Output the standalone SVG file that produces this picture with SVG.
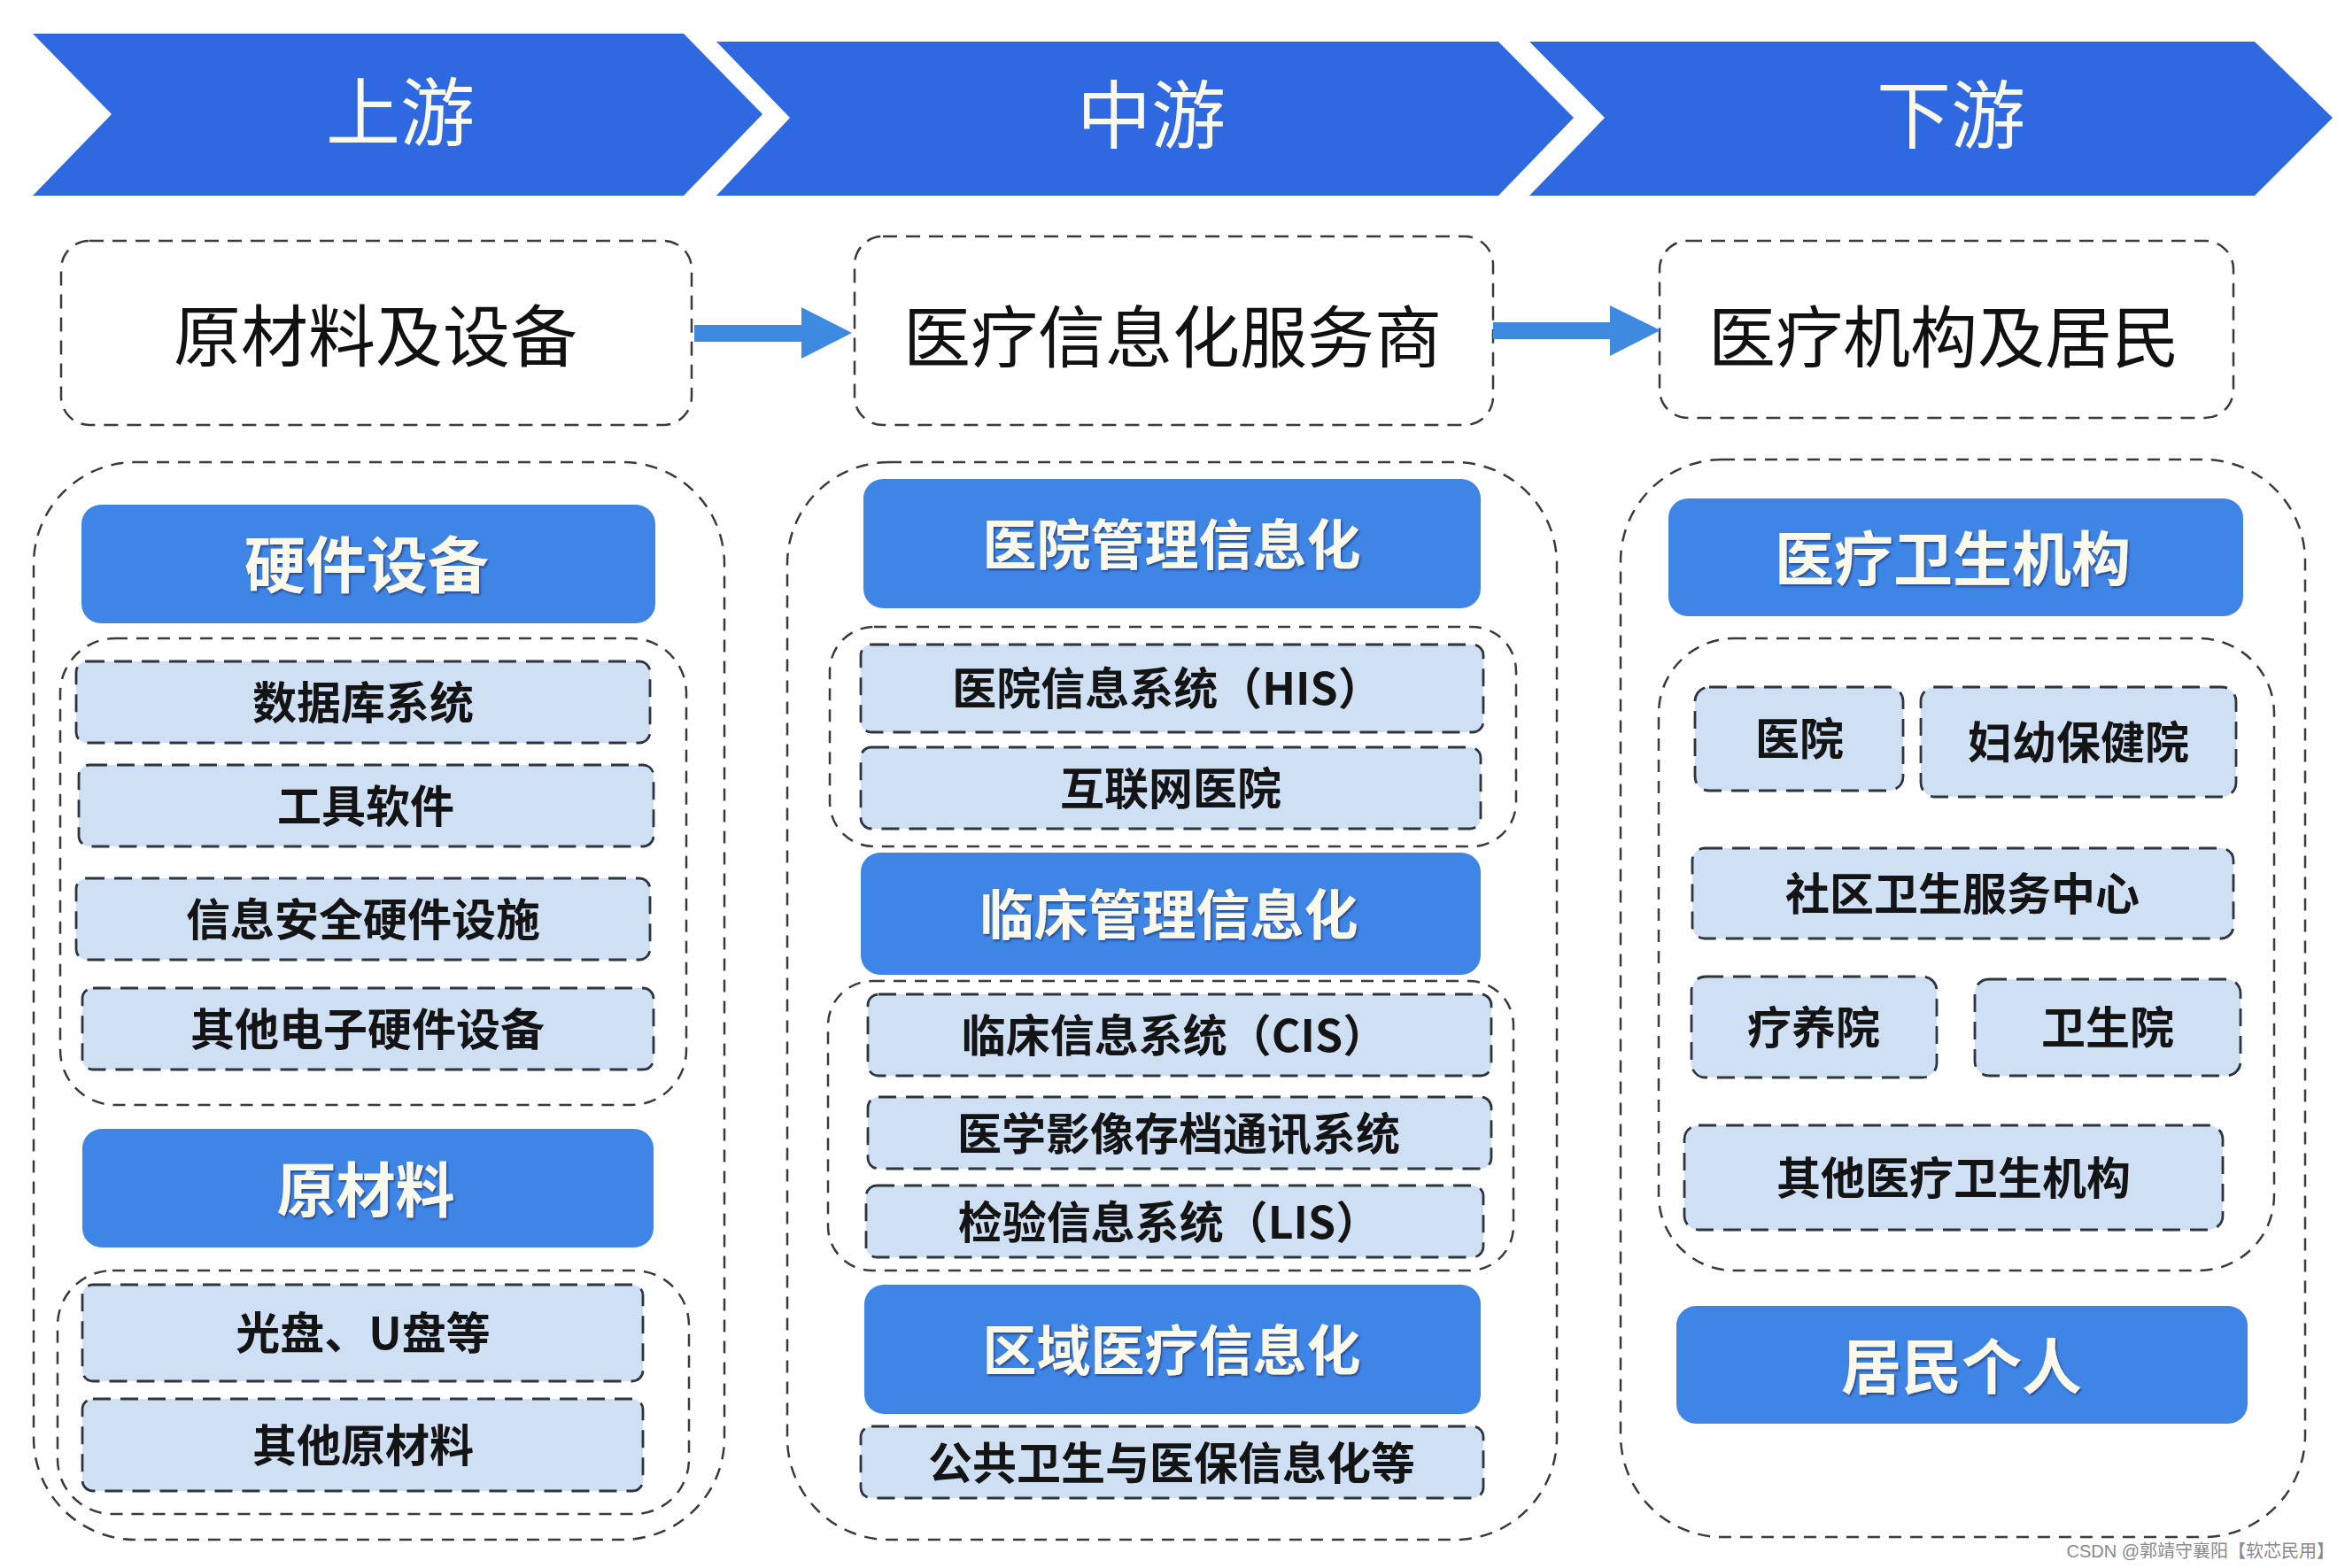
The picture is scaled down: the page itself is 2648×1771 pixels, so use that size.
<svg xmlns="http://www.w3.org/2000/svg" width="2648" height="1771" viewBox="0 0 2648 1771">
<style>
  .banner { fill: #2e69e2; }
  .btxt { font-family: "Noto Sans CJK SC", "Noto Sans", sans-serif; font-size: 84px; font-weight: 400; fill: #fbf8ee; text-anchor: middle; dominant-baseline: central; transform: translateY(-4px); }
  .topbox { fill: #ffffff; stroke: #3a3a3a; stroke-width: 2.5; stroke-dasharray: 16 10; }
  .toptxt { font-family: "Noto Sans CJK SC", "Noto Sans", sans-serif; font-size: 76px; font-weight: 400; fill: #111111; text-anchor: middle; dominant-baseline: central; transform: translateY(-4px); }
  .outer { fill: none; stroke: #3a3a3a; stroke-width: 2.5; stroke-dasharray: 14 10; }
  .inner { fill: none; stroke: #3a3a3a; stroke-width: 2.5; stroke-dasharray: 14 10; }
  .cat { fill: #3f85e6; }
  .cattxt { font-family: "Noto Sans CJK SC", "Noto Sans", sans-serif; font-weight: 700; fill: #fbf8ec; text-anchor: middle; dominant-baseline: central; filter: url(#sh); transform: translateY(-3px); }
  .item { fill: #cfe0f5; stroke: #2e3440; stroke-width: 2.8; stroke-dasharray: 20 11; }
  .itxt { font-family: "Noto Sans CJK SC", "Noto Sans", sans-serif; font-size: 50px; font-weight: 700; fill: #141414; text-anchor: middle; dominant-baseline: central; transform: translateY(-3px); }
  .arrow { fill: #3d8ae0; }
  .wm { font-family: "Liberation Sans", "Noto Sans CJK SC", sans-serif; font-size: 20px; fill: #8a8a8a; text-anchor: end; dominant-baseline: central; }
</style>
<defs>
  <filter id="sh" x="-10%" y="-20%" width="120%" height="140%">
    <feDropShadow dx="1.5" dy="2" stdDeviation="1" flood-color="#1b2f66" flood-opacity="0.7"/>
  </filter>
</defs>
<rect width="2648" height="1771" fill="#ffffff"/>

<g id="banner-upstream">
  <polygon class="banner" points="37,38 772,38 861,129 772,221 37,221 126,129"/>
  <text class="btxt" x="452" y="125">上游</text>
</g>
<g id="banner-midstream">
  <polygon class="banner" points="809,47 1692,47 1777,133 1692,221 809,221 892,133"/>
  <text class="btxt" x="1300" y="128">中游</text>
</g>
<g id="banner-downstream">
  <polygon class="banner" points="1727,47 2546,47 2634,133 2546,221 1727,221 1812,133"/>
  <text class="btxt" x="2203" y="128">下游</text>
</g>

<g id="node-raw-equip">
  <rect class="topbox" x="69" y="272" width="712" height="208" rx="32"/>
  <text class="toptxt" x="424" y="379">原材料及设备</text>
</g>
<g id="node-service">
  <rect class="topbox" x="965" y="267" width="721" height="213" rx="32"/>
  <text class="toptxt" x="1324" y="380">医疗信息化服务商</text>
</g>
<g id="node-institutions">
  <rect class="topbox" x="1874" y="272" width="648" height="200" rx="32"/>
  <text class="toptxt" x="2195" y="380">医疗机构及居民</text>
</g>

<g id="connectors">
  <rect class="arrow" x="784" y="367" width="122" height="19"/>
  <polygon class="arrow" points="905,347 962,376 905,405"/>
  <rect class="arrow" x="1686" y="364" width="133" height="19"/>
  <polygon class="arrow" points="1818,345 1875,373 1818,402"/>
</g>

<!-- Column 1 -->
<g id="col1-container">
  <rect class="outer" x="38" y="522" width="780" height="1217" rx="115"/>
</g>
<g id="cat-hardware">
  <rect class="cat" x="92" y="570" width="648" height="134" rx="22"/>
  <text class="cattxt" x="414" y="637" font-size="69">硬件设备</text>
</g>
<g id="col1-hw-group">
  <rect class="inner" x="68" y="721" width="707" height="527" rx="62"/>
</g>
<g id="item-database">
  <rect class="item" x="86" y="747" width="648" height="92" rx="12"/>
  <text class="itxt" x="410" y="793">数据库系统</text>
</g>
<g id="item-tools">
  <rect class="item" x="89" y="864" width="649" height="92" rx="12"/>
  <text class="itxt" x="413" y="910">工具软件</text>
</g>
<g id="item-security">
  <rect class="item" x="86" y="992" width="648" height="92" rx="12"/>
  <text class="itxt" x="410" y="1038">信息安全硬件设施</text>
</g>
<g id="item-other-hw">
  <rect class="item" x="93" y="1116" width="645" height="92" rx="12"/>
  <text class="itxt" x="415" y="1162">其他电子硬件设备</text>
</g>
<g id="cat-raw">
  <rect class="cat" x="93" y="1275" width="645" height="134" rx="22"/>
  <text class="cattxt" x="413" y="1342" font-size="67">原材料</text>
</g>
<g id="col1-raw-group">
  <rect class="inner" x="65" y="1435" width="713" height="275" rx="62"/>
</g>
<g id="item-disc">
  <rect class="item" x="93" y="1451" width="633" height="109" rx="12"/>
  <text class="itxt" x="410" y="1505">光盘、U盘等</text>
</g>
<g id="item-other-raw">
  <rect class="item" x="93" y="1580" width="633" height="104" rx="12"/>
  <text class="itxt" x="410" y="1632">其他原材料</text>
</g>

<!-- Column 2 -->
<g id="col2-container">
  <rect class="outer" x="889" y="522" width="869" height="1217" rx="115"/>
</g>
<g id="cat-hospital-mgmt">
  <rect class="cat" x="975" y="541" width="697" height="146" rx="22"/>
  <text class="cattxt" x="1323" y="614" font-size="61">医院管理信息化</text>
</g>
<g id="col2-hosp-group">
  <rect class="inner" x="937" y="708" width="775" height="248" rx="50"/>
</g>
<g id="item-his">
  <rect class="item" x="972" y="728" width="703" height="99" rx="12"/>
  <text class="itxt" x="1318" y="777">医院信息系统（HIS）</text>
</g>
<g id="item-internet-hosp">
  <rect class="item" x="972" y="844" width="700" height="92" rx="12"/>
  <text class="itxt" x="1322" y="890">互联网医院</text>
</g>
<g id="cat-clinical">
  <rect class="cat" x="972" y="963" width="700" height="138" rx="22"/>
  <text class="cattxt" x="1320" y="1032" font-size="61">临床管理信息化</text>
</g>
<g id="col2-clin-group">
  <rect class="inner" x="935" y="1108" width="774" height="327" rx="50"/>
</g>
<g id="item-cis">
  <rect class="item" x="980" y="1123" width="704" height="92" rx="12"/>
  <text class="itxt" x="1326" y="1169">临床信息系统（CIS）</text>
</g>
<g id="item-pacs">
  <rect class="item" x="980" y="1239" width="704" height="81" rx="12"/>
  <text class="itxt" x="1331" y="1280">医学影像存档通讯系统</text>
</g>
<g id="item-lis">
  <rect class="item" x="978" y="1339" width="697" height="81" rx="12"/>
  <text class="itxt" x="1320" y="1380">检验信息系统（LIS）</text>
</g>
<g id="cat-regional">
  <rect class="cat" x="976" y="1451" width="696" height="146" rx="22"/>
  <text class="cattxt" x="1323" y="1524" font-size="61">区域医疗信息化</text>
</g>
<g id="item-public-health">
  <rect class="item" x="972" y="1611" width="703" height="81" rx="12"/>
  <text class="itxt" x="1323" y="1652">公共卫生与医保信息化等</text>
</g>

<!-- Column 3 -->
<g id="col3-container">
  <rect class="outer" x="1830" y="519" width="773" height="1217" rx="115"/>
</g>
<g id="cat-health-inst">
  <rect class="cat" x="1884" y="563" width="649" height="133" rx="22"/>
  <text class="cattxt" x="2205" y="629" font-size="67">医疗卫生机构</text>
</g>
<g id="col3-inst-group">
  <rect class="inner" x="1873" y="721" width="695" height="714" rx="85"/>
</g>
<g id="item-hospital">
  <rect class="item" x="1914" y="776" width="235" height="117" rx="16"/>
  <text class="itxt" x="2032" y="834">医院</text>
</g>
<g id="item-maternal">
  <rect class="item" x="2169" y="776" width="356" height="124" rx="16"/>
  <text class="itxt" x="2347" y="838">妇幼保健院</text>
</g>
<g id="item-community">
  <rect class="item" x="1911" y="958" width="611" height="102" rx="14"/>
  <text class="itxt" x="2216" y="1009">社区卫生服务中心</text>
</g>
<g id="item-sanatorium">
  <rect class="item" x="1910" y="1103" width="277" height="114" rx="16"/>
  <text class="itxt" x="2048" y="1160">疗养院</text>
</g>
<g id="item-health-center">
  <rect class="item" x="2230" y="1106" width="300" height="109" rx="16"/>
  <text class="itxt" x="2380" y="1160">卫生院</text>
</g>
<g id="item-other-inst">
  <rect class="item" x="1902" y="1271" width="608" height="118" rx="16"/>
  <text class="itxt" x="2206" y="1330">其他医疗卫生机构</text>
</g>
<g id="cat-residents">
  <rect class="cat" x="1893" y="1475" width="645" height="133" rx="22"/>
  <text class="cattxt" x="2215" y="1542" font-size="68">居民个人</text>
</g>

<text class="wm" x="2636" y="1752">CSDN @郭靖守襄阳【软芯民用】</text>
</svg>
